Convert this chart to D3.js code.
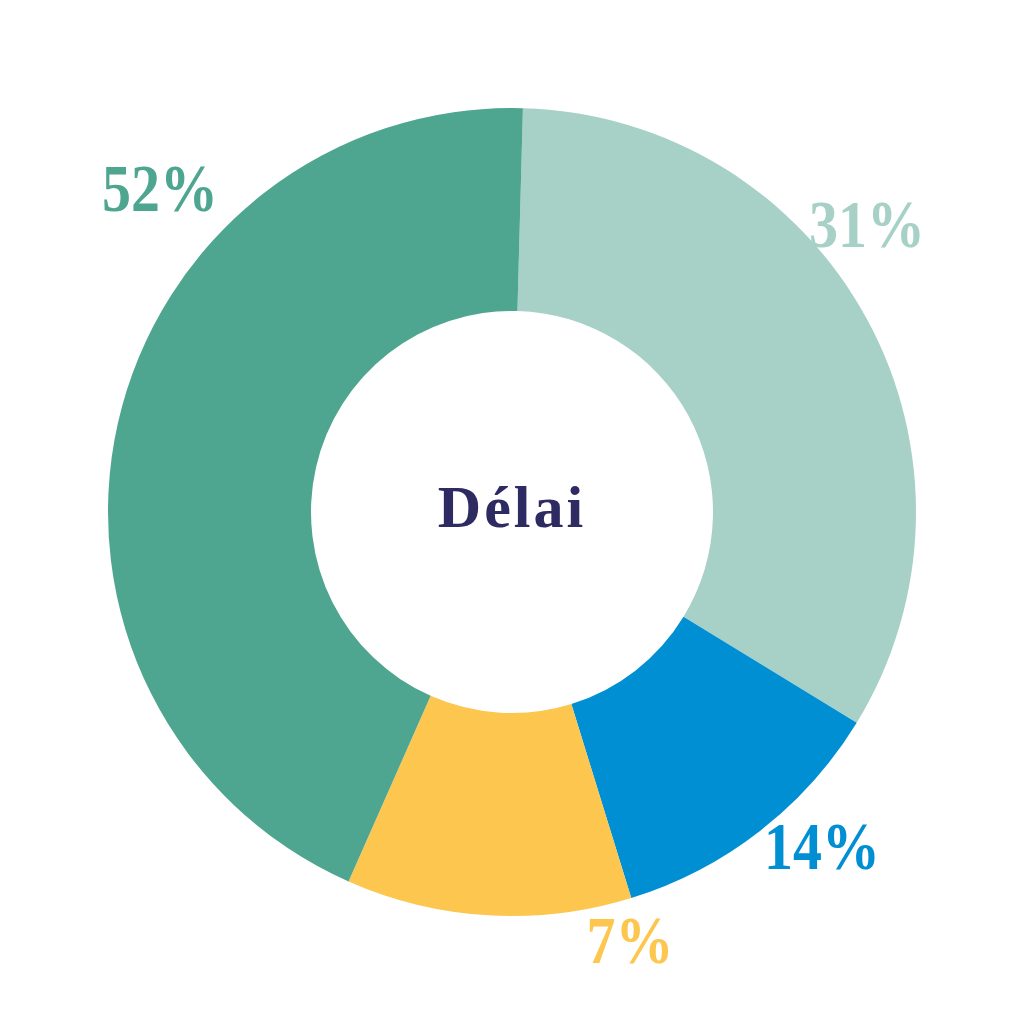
<!DOCTYPE html>
<html><head><meta charset="utf-8">
<script src="https://cdn.jsdelivr.net/npm/d3@7"></script>
<style>html,body{margin:0;padding:0;background:#fff;}</style>
</head><body>
<svg id="c" width="1024" height="1024"></svg>
<script>
// Slice shares (clockwise from just right of 12 o'clock)
const categories = ["A", "B", "C", "D"];
const sliceShares = [33.3, 11.5, 11.4, 43.8];
const labels = ["31%", "14%", "7%", "52%"];
const colors = ["#A7D1C6", "#008FD3", "#FCC64F", "#4FA690"];
const centerTitle = "Délai";

const svg = d3.select("#c");
const cx = 512, cy = 512, rOuter = 404, rInner = 201;
const start = 1.55 * Math.PI / 180;

const pie = d3.pie().sort(null).value(d => d.v).startAngle(start).endAngle(start + 2 * Math.PI);
const data = categories.map((c, i) => ({c, v: sliceShares[i], label: labels[i], color: colors[i]}));
const arcs = pie(data);
const arc = d3.arc().innerRadius(rInner).outerRadius(rOuter);

const g = svg.append("g").attr("transform", `translate(${cx},${cy})`);
g.selectAll("path").data(arcs).join("path").attr("d", arc).attr("fill", d => d.data.color);

// label positions (centre x, baseline y) relative to image
const labelPos = [[867, 247], [822, 869], [630, 963], [160, 211]];
svg.selectAll("text.lbl").data(arcs).join("text").attr("class", "lbl")
  .attr("transform", (d, i) => `translate(${labelPos[i][0]},${labelPos[i][1]}) scale(0.95,1.12)`)
  .attr("text-anchor", "middle")
  .attr("font-family", "'Liberation Serif', 'DejaVu Serif', serif")
  .attr("font-weight", "bold").attr("font-size", 61)
  .attr("fill", d => d.data.color).text(d => d.data.label);

svg.append("text").attr("x", 512).attr("y", 527).attr("text-anchor", "middle")
  .attr("font-family", "'Liberation Serif', 'DejaVu Serif', serif")
  .attr("font-weight", "bold").attr("font-size", 60).attr("letter-spacing", 3)
  .attr("fill", "#2E2A62").text(centerTitle);
</script>
</body></html>
